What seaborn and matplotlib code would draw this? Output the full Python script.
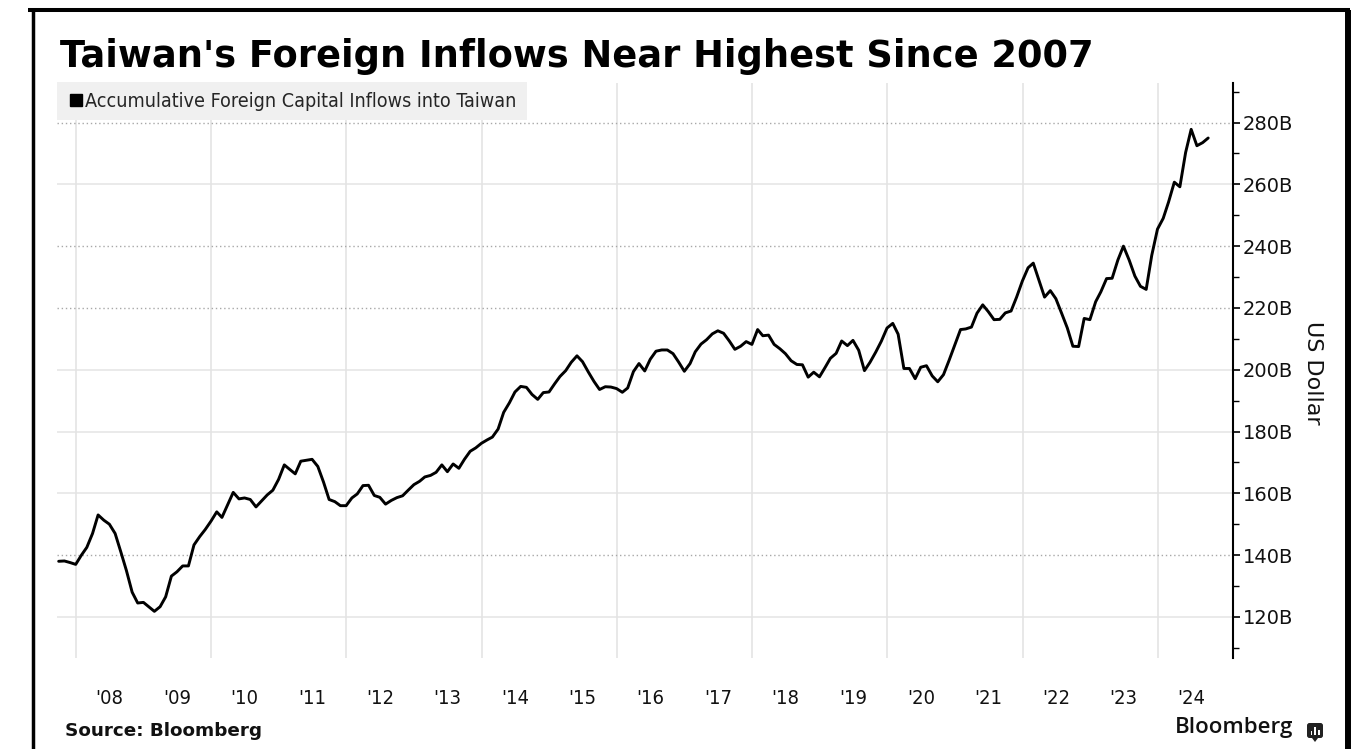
import numpy as np
import pandas as pd
import matplotlib
matplotlib.use("Agg")
import matplotlib.pyplot as plt
import matplotlib.dates as mdates
from matplotlib.ticker import MultipleLocator, NullFormatter, FuncFormatter
from matplotlib.lines import Line2D
from matplotlib.patches import FancyBboxPatch, Rectangle, Polygon
from matplotlib.transforms import IdentityTransform
from matplotlib import font_manager as fm
import seaborn as sns

# ---- data: month-end accumulative foreign capital inflows (US$ bn) ----
start_month = "2007-09-30"
inflows = [
    138.0, 138.1, 137.6, 137.0, 140.0, 142.5, 147.0, 153.0, 151.3, 150.0,
    147.0, 141.0, 135.0, 128.0, 124.5, 124.7, 123.2, 121.8, 123.3, 126.5,
    133.2, 134.6, 136.5, 136.5, 143.3, 146.0, 148.3, 151.0, 154.0, 152.2,
    156.3, 160.3, 158.2, 158.5, 158.0, 155.6, 157.5, 159.5, 161.0, 164.5,
    169.2, 167.8, 166.3, 170.4, 170.7, 171.0, 168.7, 163.6, 158.0, 157.3,
    156.0, 156.0, 158.5, 159.8, 162.5, 162.6, 159.3, 158.7, 156.5, 157.7,
    158.6, 159.2, 161.0, 162.8, 163.9, 165.3, 165.8, 166.8, 169.2, 167.0,
    169.5, 168.1, 171.0, 173.6, 174.7, 176.2, 177.3, 178.2, 180.8, 186.2,
    189.3, 192.8, 194.6, 194.3, 192.0, 190.4, 192.6, 192.8, 195.5, 197.8,
    199.7, 202.4, 204.5, 202.6, 199.3, 196.2, 193.6, 194.5, 194.4, 193.9,
    192.7, 194.1, 199.4, 202.0, 199.6, 203.4, 206.0, 206.4, 206.4, 205.2,
    202.5, 199.5, 202.0, 205.8, 208.3, 209.7, 211.6, 212.6, 211.8, 209.3,
    206.6, 207.6, 209.1, 208.2, 213.0, 211.0, 211.2, 208.2, 206.8, 205.2,
    202.9, 201.7, 201.6, 197.6, 199.2, 197.7, 200.8, 203.7, 205.3, 209.3,
    207.8, 209.5, 206.3, 199.7, 202.4, 205.7, 209.2, 213.5, 215.0, 211.5,
    200.4, 200.4, 197.1, 200.8, 201.3, 198.0, 196.1, 198.4, 203.0, 208.0,
    213.0, 213.2, 213.8, 218.3, 221.0, 218.8, 216.2, 216.3, 218.4, 219.0,
    223.5, 228.7, 233.0, 234.5, 228.9, 223.5, 225.6, 223.0, 218.3, 213.5,
    207.6, 207.5, 216.6, 216.2, 222.0, 225.2, 229.5, 229.6, 235.5, 240.0,
    235.5, 230.3, 227.0, 226.0, 237.0, 245.5, 249.0, 254.3, 260.7, 259.2,
    270.3, 277.8, 272.5, 273.5, 275.0,
]
dates = pd.date_range(pd.Timestamp(start_month) + pd.Timedelta(days=1),
                      periods=len(inflows), freq="MS") - pd.Timedelta(days=1)

series_name = "Accumulative Foreign Capital Inflows into Taiwan"
title = "Taiwan's Foreign Inflows Near Highest Since 2007"
source = "Source: Bloomberg"
brand = "Bloomberg"
y_label = "US Dollar"
dotted_levels = [140, 220, 240, 280]

df = pd.DataFrame({"date": dates, "value": inflows})

# ---- style ----
sns.set_theme(style="white")
plt.rcParams["font.family"] = ["DejaVu Sans"]
names = {f.name for f in fm.fontManager.ttflist}
narrow_family = "Liberation Sans Narrow" if "Liberation Sans Narrow" in names else "DejaVu Sans"
narrow = fm.FontProperties(family=narrow_family, stretch="condensed")
brand_family = "Open Sans" if "Open Sans" in names else "DejaVu Sans"

W, H = 1361, 749
fig = plt.figure(figsize=(W / 100, H / 100), dpi=100)
fig.patch.set_facecolor("white")
ax = fig.add_axes([57 / W, 1 - 658 / H, (1233 - 57) / W, (658 - 83) / H])
ax.set_facecolor("white")

sns.lineplot(data=df, x="date", y="value", ax=ax, color="black",
             linewidth=2.1, zorder=5)

ax.set_xlim(pd.Timestamp("2007-09-21"), pd.Timestamp("2025-02-11"))
ax.set_ylim(106.7, 292.8)
ax.set_xlabel("")

# x axis: gridlines every two years, year labels centred mid-year
ax.xaxis.set_major_locator(mdates.YearLocator(2))
ax.xaxis.set_major_formatter(NullFormatter())
ax.xaxis.set_minor_locator(mdates.MonthLocator(bymonth=7))
ax.xaxis.set_minor_formatter(
    FuncFormatter(lambda v, p: "'" + mdates.num2date(v).strftime("%y")))
ax.tick_params(axis="x", which="both", length=0)
ax.tick_params(axis="x", which="minor", pad=22, labelcolor="#111111")
for lbl in ax.xaxis.get_minorticklabels():
    lbl.set_fontproperties(narrow)
    lbl.set_fontsize(14.5)
ax.grid(axis="x", which="major", color="#e2e2e2", linewidth=1.1, zorder=0)

# y axis on the right
ax.yaxis.tick_right()
ax.yaxis.set_major_locator(MultipleLocator(20))
ax.yaxis.set_minor_locator(MultipleLocator(10))
ax.yaxis.set_major_formatter(FuncFormatter(lambda v, p: f"{v:.0f}B"))
ax.tick_params(axis="y", which="major", direction="out", length=5, width=1.2,
               color="black", labelsize=14, pad=2, labelcolor="#111111")
ax.tick_params(axis="y", which="minor", direction="out", length=4, width=1.0,
               color="black")
ax.set_ylabel(y_label, rotation=270, fontsize=16, color="#111111")
ax.yaxis.set_label_position("right")
ax.yaxis.set_label_coords((1313 - 57) / (1233 - 57), 0.496)
ax.yaxis.label.set_va("center")

for lvl in ax.get_yticks():
    if not (106.7 < lvl < 292.8):
        continue
    if lvl in dotted_levels:
        ax.axhline(lvl, color="#a8a8a8", linewidth=1.0, linestyle=(0, (1, 2)), zorder=1)
    else:
        ax.axhline(lvl, color="#e4e4e4", linewidth=1.1, zorder=1)

for side in ["left", "top", "bottom"]:
    ax.spines[side].set_visible(False)
ax.spines["right"].set_color("black")
ax.spines["right"].set_linewidth(1.5)

# legend
handle = Line2D([], [], marker="s", color="black", linestyle="none", markersize=8.5)
leg = ax.legend([handle], [series_name], loc="upper left",
                bbox_to_anchor=(0.0, 1.002), frameon=True, fancybox=False,
                facecolor="#f0f0f0", edgecolor="none", framealpha=1,
                borderpad=0.5, handletextpad=0.05, handlelength=0.9,
                borderaxespad=0, prop=fm.FontProperties(family=narrow_family,
                                                        stretch="condensed", size=14.1))
leg.set_zorder(10)

# titles and footer
fig.text(60 / W, 1 - 67 / H, title, fontsize=26.5, fontweight="bold",
         ha="left", va="baseline", color="black")
fig.text(65 / W, 1 - 731 / H, source, fontsize=13.2, fontweight="bold",
         ha="left", va="center", color="#111111")
fig.text(1293 / W, 1 - 727 / H, brand, fontsize=16, ha="right", va="center",
         color="#111111", family=brand_family, fontweight="semibold")

# brand mark
ident = IdentityTransform()
fig.add_artist(FancyBboxPatch((1307, H - 738), 16, 15,
                              boxstyle="round,pad=0,rounding_size=2.5",
                              facecolor="#222222", edgecolor="none", transform=ident))
fig.add_artist(Polygon([[1312, H - 738], [1318, H - 738], [1315, H - 742]],
                       closed=True, facecolor="#222222", edgecolor="none",
                       transform=ident))
for bx, bh in [(1310.5, 4), (1314.2, 8), (1317.9, 5)]:
    fig.add_artist(Rectangle((bx, H - 734.5), 1.8, bh, facecolor="white",
                             edgecolor="none", transform=ident))

# frame lines
fig.add_artist(Line2D([28, 1350], [H - 10, H - 10], color="black", linewidth=2.9,
                      transform=ident, solid_capstyle="butt"))
fig.add_artist(Line2D([33, 33], [0, H - 10], color="black", linewidth=2.5,
                      transform=ident, solid_capstyle="butt"))
fig.add_artist(Line2D([1347.5, 1347.5], [0, H - 10], color="black", linewidth=4.3,
                      transform=ident, solid_capstyle="butt"))

fig.savefig("out.png", dpi=100, facecolor="white")
